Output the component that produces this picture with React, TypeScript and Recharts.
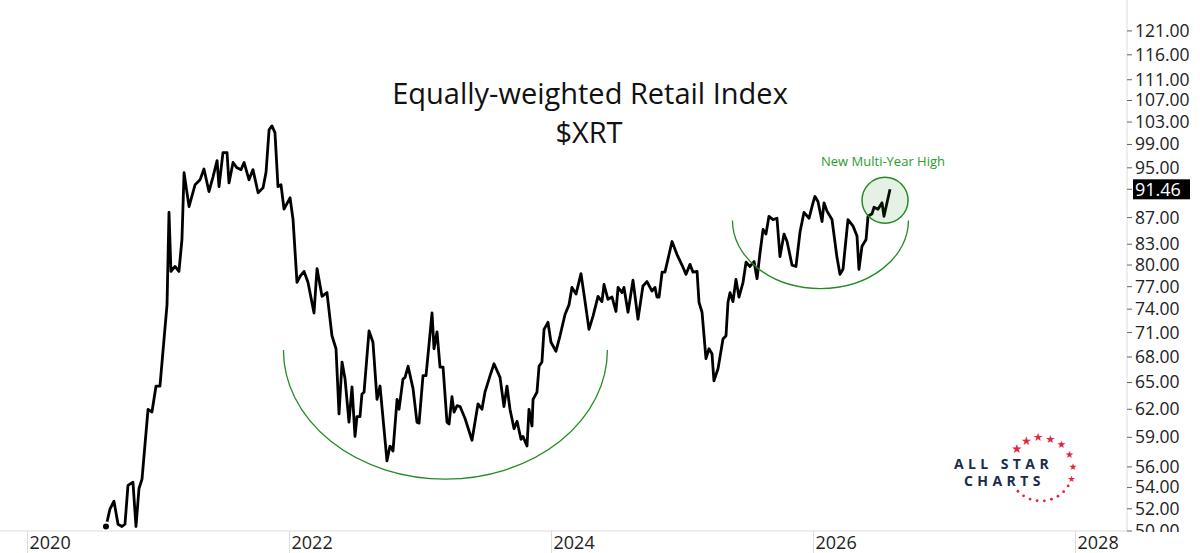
import { LineChart, Line, XAxis, YAxis, ReferenceDot } from "recharts";

// weekly-ish closes (x = fractional year as labelled on the axis)
const YEARS = [
  2020.599, 2020.63, 2020.66, 2020.691, 2020.721, 2020.744, 2020.767, 2020.805, 2020.828, 2020.851,
  2020.874, 2020.92, 2020.95, 2020.981, 2021.011, 2021.065, 2021.08, 2021.095, 2021.126, 2021.156,
  2021.179, 2021.195, 2021.233, 2021.279, 2021.317, 2021.347, 2021.385, 2021.416, 2021.447, 2021.462,
  2021.492, 2021.523, 2021.538, 2021.569, 2021.599, 2021.63, 2021.653, 2021.691, 2021.721, 2021.76,
  2021.798, 2021.821, 2021.844, 2021.866, 2021.889, 2021.912, 2021.935, 2021.958, 2022.004, 2022.027,
  2022.057, 2022.08, 2022.111, 2022.141, 2022.187, 2022.21, 2022.248, 2022.286, 2022.324, 2022.355,
  2022.378, 2022.401, 2022.424, 2022.454, 2022.477, 2022.5, 2022.515, 2022.538, 2022.553, 2022.569,
  2022.607, 2022.637, 2022.668, 2022.691, 2022.744, 2022.767, 2022.79, 2022.821, 2022.836, 2022.866,
  2022.882, 2022.905, 2022.943, 2022.973, 2022.989, 2023.019, 2023.042, 2023.088, 2023.103, 2023.126,
  2023.149, 2023.172, 2023.202, 2023.218, 2023.24, 2023.256, 2023.279, 2023.302, 2023.34, 2023.393,
  2023.439, 2023.469, 2023.492, 2023.531, 2023.561, 2023.607, 2023.637, 2023.66, 2023.683, 2023.714,
  2023.737, 2023.767, 2023.782, 2023.813, 2023.828, 2023.851, 2023.859, 2023.889, 2023.905, 2023.927,
  2023.943, 2023.973, 2023.996, 2024.034, 2024.065, 2024.103, 2024.134, 2024.156, 2024.187, 2024.225,
  2024.256, 2024.286, 2024.317, 2024.355, 2024.385, 2024.401, 2024.431, 2024.462, 2024.492, 2024.508,
  2024.538, 2024.553, 2024.584, 2024.622, 2024.66, 2024.698, 2024.729, 2024.767, 2024.79, 2024.805,
  2024.821, 2024.844, 2024.866, 2024.92, 2024.958, 2024.996, 2025.027, 2025.057, 2025.08, 2025.111,
  2025.126, 2025.149, 2025.179, 2025.202, 2025.225, 2025.24, 2025.271, 2025.309, 2025.332, 2025.347,
  2025.363, 2025.385, 2025.408, 2025.431, 2025.462, 2025.485, 2025.515, 2025.546, 2025.569, 2025.592,
  2025.615, 2025.637, 2025.66, 2025.691, 2025.721, 2025.744, 2025.775, 2025.798, 2025.836, 2025.866,
  2025.897, 2025.927, 2025.966, 2025.996, 2026.011, 2026.034, 2026.065, 2026.08, 2026.103, 2026.141,
  2026.179, 2026.202, 2026.225, 2026.263, 2026.302, 2026.332, 2026.347, 2026.37, 2026.401, 2026.416,
  2026.447, 2026.462, 2026.492, 2026.523, 2026.538, 2026.584,
];

const XRT = [
  50.4, 52.0, 52.7, 50.6, 50.4, 50.6, 54.2, 54.5, 50.4, 53.9,
  54.8, 62.0, 61.7, 64.6, 64.6, 74.6, 87.8, 79.1, 79.8, 79.1,
  83.7, 94.2, 88.7, 92.2, 93.0, 94.8, 91.1, 93.5, 96.2, 91.9,
  97.6, 97.6, 92.5, 95.9, 95.0, 94.7, 95.9, 93.0, 94.7, 90.9,
  91.7, 94.3, 101.6, 102.3, 101.1, 91.9, 92.2, 88.3, 90.1, 86.7,
  77.6, 78.4, 79.1, 77.6, 73.5, 79.5, 75.7, 76.2, 70.6, 69.0,
  61.5, 67.4, 65.4, 60.6, 64.5, 59.1, 61.2, 61.2, 63.7, 63.9,
  71.2, 69.8, 63.1, 64.6, 56.6, 58.1, 57.6, 63.1, 62.0, 65.4,
  65.6, 66.9, 64.3, 60.6, 60.5, 65.8, 65.8, 73.5, 69.0, 71.1,
  66.8, 66.8, 60.6, 60.4, 63.4, 61.7, 62.4, 62.3, 61.0, 58.7,
  62.6, 62.0, 63.9, 65.8, 67.2, 65.6, 62.3, 64.6, 62.0, 59.9,
  60.7, 58.8, 59.1, 58.1, 62.0, 60.2, 63.1, 63.9, 66.9, 67.4,
  71.4, 72.3, 69.8, 68.7, 70.6, 73.3, 74.6, 76.9, 76.0, 78.8,
  75.0, 71.4, 73.1, 75.7, 75.0, 77.3, 75.3, 75.6, 73.7, 76.9,
  76.2, 76.9, 73.6, 77.9, 72.7, 77.1, 77.7, 76.4, 76.9, 75.6,
  75.6, 79.0, 79.0, 83.4, 81.5, 80.0, 78.7, 80.1, 79.0, 79.1,
  74.9, 73.6, 67.8, 69.0, 68.4, 65.2, 66.6, 70.2, 70.6, 74.9,
  76.2, 75.0, 78.0, 75.6, 77.6, 80.4, 79.8, 80.5, 78.1, 81.8,
  85.2, 84.5, 87.2, 86.7, 86.9, 81.2, 84.5, 83.4, 80.0, 79.8,
  84.8, 87.8, 86.9, 89.3, 90.3, 89.5, 86.4, 89.3, 88.0, 86.7,
  81.1, 78.7, 79.4, 86.7, 85.7, 84.2, 79.4, 82.7, 83.7, 87.2,
  87.6, 88.6, 88.3, 89.3, 87.2, 91.46,
];

const LAST = 91.46;
const X_TICKS = [2020, 2022, 2024, 2026, 2028];
const Y_TICKS = [50, 52, 54, 56, 59, 62, 65, 68, 71, 74, 77, 80, 83, 87, 95, 99, 103, 107, 111, 116, 121];

// annotation anchors in data space
const BASE_ARC = { x: 2023.19, y: 68.84, rx: 162, ry: 129 };
const TOP_ARC = { x: 2026.053, y: 86.55, rx: 88, ry: 68 };
const HIGH_RING = { x: 2026.546, y: 89.7, r: 23 };

const data = YEARS.map((t, i) => ({ t, v: XRT[i] }));

const FONT = "'Open Sans', 'Noto Sans', sans-serif";
const GREEN = "#238b23";

function XTick({ x, y, payload }: any) {
  return (
    <g>
      <line x1={x} y1={y} x2={x} y2={y + 24} stroke="#dcdcdc" />
      <text x={x + 2} y={y + 18} fontSize={18} fill="#222" fontFamily={FONT}>
        {payload.value}
      </text>
    </g>
  );
}

function YTick({ x, y, payload }: any) {
  if (payload.value === LAST) {
    return (
      <g>
        <rect x={x - 2} y={y - 10} width={57} height={20} fill="#000" />
        <text x={x} y={y} dy="0.36em" fontSize={18} fill="#fff" fontFamily={FONT}>
          {LAST.toFixed(2)}
        </text>
      </g>
    );
  }
  return (
    <text x={x} y={y} dy="0.34em" fontSize={17.5} fill="#222" fontFamily={FONT}>
      {payload.value.toFixed(2)}
    </text>
  );
}

function arcShape(rx: number, ry: number) {
  return (p: any) => (
    <path
      d={`M ${p.cx - rx} ${p.cy} A ${rx} ${ry} 0 0 0 ${p.cx + rx} ${p.cy}`}
      fill="none"
      stroke={GREEN}
      strokeWidth={1.3}
    />
  );
}

// star ring of the logo
const STAR_ANGLES = [-139, -117, -95, -73, -50, -27, -4, 17];
const DOT_ANGLES = [32, 45, 58, 71, 84, 97, 110, 123, 136];

function Logo() {
  const cx = 1041;
  const cy = 469;
  const r = 32;
  const rad = (a: number) => (a * Math.PI) / 180;
  return (
    <g>
      <text x={954} y={469} fontSize={14} fontWeight={700} fill="#1b2b4b" fontFamily={FONT} letterSpacing={4.4}>
        ALL STAR
      </text>
      <text x={964} y={486} fontSize={14} fontWeight={700} fill="#1b2b4b" fontFamily={FONT} letterSpacing={4.4}>
        CHARTS
      </text>
      {STAR_ANGLES.map((a, i) => (
        <text
          key={a}
          x={cx + r * Math.cos(rad(a))}
          y={cy + r * Math.sin(rad(a))}
          dy="0.38em"
          textAnchor="middle"
          fontSize={12.5 - i * 0.5}
          fill="#e2253d"
          fontFamily="DejaVu Sans"
        >
          ★
        </text>
      ))}
      {DOT_ANGLES.map((a) => (
        <circle key={a} cx={cx + r * Math.cos(rad(a))} cy={cy + r * Math.sin(rad(a))} r={1.4} fill="#e2253d" />
      ))}
    </g>
  );
}

export default function App() {
  return (
    <div style={{ position: "relative", width: 1200, height: 553, background: "#fff" }}>
      <style>{"body{margin:0}"}</style>
      <LineChart width={1200} height={553} data={data} margin={{ top: 0, right: 0, left: 0, bottom: 0 }}>
        <XAxis
          dataKey="t"
          type="number"
          domain={[2019.79, 2028.393]}
          allowDataOverflow
          ticks={X_TICKS}
          tick={<XTick />}
          tickLine={false}
          tickSize={0}
          tickMargin={0}
          height={22}
          axisLine={{ stroke: "#dcdcdc" }}
        />
        <YAxis
          orientation="right"
          scale="log"
          type="number"
          domain={[50, 127.8]}
          allowDataOverflow
          ticks={[...Y_TICKS, LAST]}
          interval={0}
          tick={<YTick />}
          tickSize={5}
          tickMargin={3}
          tickLine={{ stroke: "#666" }}
          axisLine={{ stroke: "#dcdcdc" }}
          width={73}
        />
        <ReferenceDot x={BASE_ARC.x} y={BASE_ARC.y} r={0} shape={arcShape(BASE_ARC.rx, BASE_ARC.ry)} />
        <ReferenceDot x={TOP_ARC.x} y={TOP_ARC.y} r={0} shape={arcShape(TOP_ARC.rx, TOP_ARC.ry)} />
        <ReferenceDot
          x={HIGH_RING.x}
          y={HIGH_RING.y}
          r={HIGH_RING.r}
          fill="rgba(35,139,35,0.12)"
          stroke={GREEN}
          strokeWidth={1.5}
        />
        <Line
          type="linear"
          dataKey="v"
          stroke="#000"
          strokeWidth={2.8}
          strokeLinejoin="round"
          dot={false}
          isAnimationActive={false}
        />
      </LineChart>
      <svg width={1200} height={553} style={{ position: "absolute", left: 0, top: 0, pointerEvents: "none" }}>
        <rect x={1128} y={532} width={72} height={21} fill="#fff" />
        <text x={590} y={104} textAnchor="middle" fontSize={29} fill="#111" fontFamily={FONT}>
          Equally-weighted Retail Index
        </text>
        <text x={589} y={143} textAnchor="middle" fontSize={29} fill="#111" fontFamily={FONT}>
          $XRT
        </text>
        <text x={883} y={166} textAnchor="middle" fontSize={13} fill="#2a9d2a" fontFamily={FONT}>
          New Multi-Year High
        </text>
        <Logo />
      </svg>
    </div>
  );
}
